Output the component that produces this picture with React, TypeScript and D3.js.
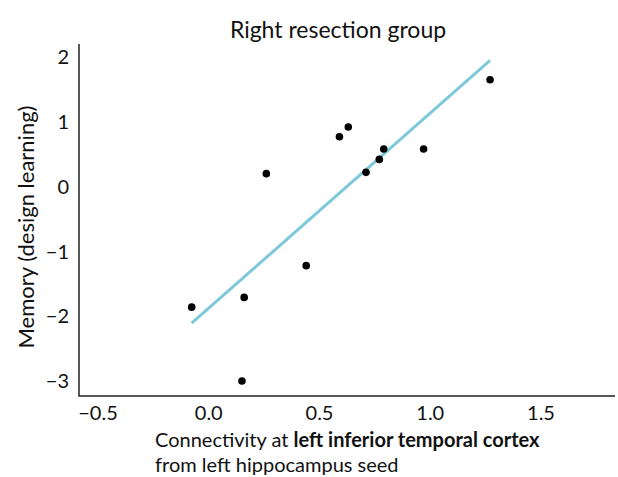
import React from "react";
import * as d3 from "d3";

// connectivity (x) and memory score (y)
const connectivity = [-0.077, 0.16, 0.15, 0.26, 0.44, 0.59, 0.63, 0.71, 0.77, 0.79, 0.97, 1.27];
const memory = [-1.86, -1.71, -3.0, 0.2, -1.22, 0.77, 0.92, 0.22, 0.42, 0.58, 0.58, 1.65];
const xTicks = [-0.5, 0, 0.5, 1.0, 1.5];
const yTicks = [2, 1, 0, -1, -2, -3];

const W = 618;
const H = 477;
const FONT = "Lato, 'Open Sans', sans-serif";

const App = () => {
  // plot frame
  const left = 79, right = 615, top = 44, bottom = 396;

  const x = d3.scaleLinear().domain([-0.5, 1.5]).range([98, 541]);
  const y = d3.scaleLinear().domain([-3, 2]).range([381, 57]);

  const pts = connectivity.map((c, i) => ({ x: c, y: memory[i] }));

  // least-squares fit
  const mx = d3.mean(connectivity) as number;
  const my = d3.mean(memory) as number;
  const sxy = d3.sum(pts, (p) => (p.x - mx) * (p.y - my));
  const sxx = d3.sum(pts, (p) => (p.x - mx) * (p.x - mx));
  const slope = sxy / sxx;
  const icpt = my - slope * mx;
  const [x0, x1] = d3.extent(connectivity) as [number, number];
  const fit = d3.line<number>()
    .x((d) => x(d))
    .y((d) => y(icpt + slope * d));

  const minus = (s: string) => s.replace("-", "\u2212");

  return (
    <svg
      width={W}
      height={H}
      style={{ position: "absolute", left: 0, top: 0, background: "white" }}
      fontFamily={FONT}
    >
      <text x={338} y={38} textAnchor="middle" fontSize={23} fill="#111">
        Right resection group
      </text>

      {/* axes */}
      <path d={`M${left},${top}V${bottom}H${right}`} fill="none" stroke="#222" strokeWidth={1.5} />

      {yTicks.map((t) => (
        <text key={t} x={69} y={y(t)} dy="0.36em" textAnchor="end" fontSize={20} fill="#111">
          {minus(d3.format("")(t))}
        </text>
      ))}
      {xTicks.map((t) => (
        <text key={t} x={x(t)} y={413} dy="0.36em" textAnchor="middle" fontSize={20} fill="#111">
          {minus(d3.format(".1f")(t))}
        </text>
      ))}

      <text
        transform={`translate(34,227) rotate(-90)`}
        textAnchor="middle"
        fontSize={22}
        fill="#111"
      >
        Memory (design learning)
      </text>

      <text x={155} y={447} fontSize={20} fill="#111">
        Connectivity at <tspan fontWeight="bold">left inferior temporal cortex</tspan>
      </text>
      <text x={155} y={472} fontSize={20} fill="#111">
        from left hippocampus seed
      </text>

      <path d={fit([x0, x1]) as string} fill="none" stroke="#7EC8DC" strokeWidth={3} />

      {pts.map((p, i) => (
        <circle key={i} cx={x(p.x)} cy={y(p.y)} r={3.8} fill="#000" />
      ))}
    </svg>
  );
};

export default App;
